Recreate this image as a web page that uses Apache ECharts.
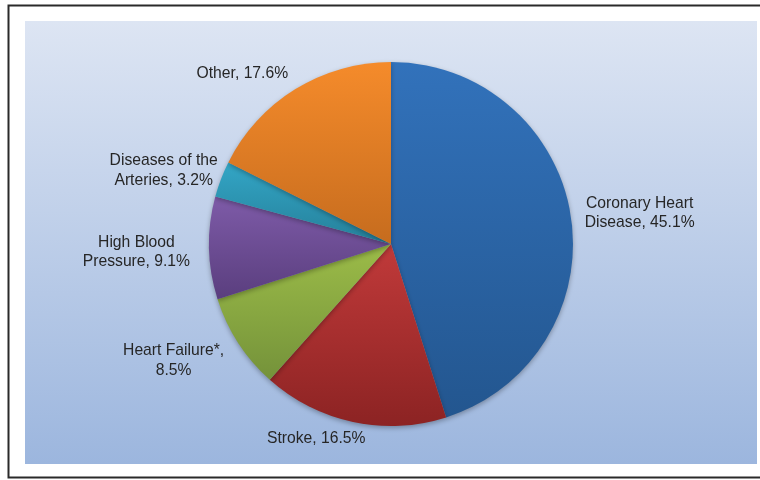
<!DOCTYPE html>
<html>
<head>
<meta charset="utf-8">
<script src="https://cdn.jsdelivr.net/npm/echarts@6/dist/echarts.min.js"></script>
<style>
  html, body { margin: 0; padding: 0; background: #fff; }
  #chart { width: 760px; height: 480px; }
</style>
</head>
<body>
<div id="chart"></div>
<script>
// slice names, shown text and values (percent)
var categories = ['Coronary Heart Disease', 'Stroke', 'Heart Failure*', 'High Blood Pressure', 'Diseases of the Arteries', 'Other'];
var labelTexts = ['Coronary Heart\nDisease, 45.1%', 'Stroke, 16.5%', 'Heart Failure*,\n8.5%', 'High Blood\nPressure, 9.1%', 'Diseases of the\nArteries, 3.2%', 'Other, 17.6%'];
var values = [45.1, 16.5, 8.5, 9.1, 3.2, 17.6];

// top / bottom colours of each slice
var topColors = ['#3272bb', '#c13a3a', '#9cbc48', '#7e5ba8', '#33a6c6', '#f58b2b'];
var bottomColors = ['#23568f', '#8c2323', '#74923a', '#5a3e7e', '#25809a', '#c66c1e'];

// small nudges of the outside labels, [dx, dy]
var labelNudge = [[-7, -1], [24, 5], [5, 11], [2, 4], [17, -4], [8, -5]];

var chart = echarts.init(document.getElementById('chart'));

var data = categories.map(function (name, i) {
    return {
        name: name,
        value: values[i],
        label: { formatter: labelTexts[i] },
        itemStyle: {
            color: new echarts.graphic.LinearGradient(0, 0, 0, 1, [
                { offset: 0, color: topColors[i] },
                { offset: 1, color: bottomColors[i] }
            ])
        }
    };
});

var option = {
    backgroundColor: '#fff',
    animation: false,
    graphic: [
        {
            type: 'rect',
            shape: { x: 8.5, y: 5.5, width: 760, height: 472 },
            style: { fill: 'none', stroke: '#2a2a2a', lineWidth: 2 },
            z: 0
        },
        {
            type: 'rect',
            shape: { x: 25, y: 21, width: 732, height: 443 },
            style: {
                fill: new echarts.graphic.LinearGradient(0, 0, 0, 1, [
                    { offset: 0, color: '#dde5f3' },
                    { offset: 1, color: '#9cb6de' }
                ])
            },
            z: 0
        }
    ],
    series: [
        {
            type: 'pie',
            center: [391, 244],
            radius: 182,
            startAngle: 90,
            clockwise: true,
            avoidLabelOverlap: false,
            z: 5,
            itemStyle: {
                shadowBlur: 5,
                shadowColor: 'rgba(0,0,0,0.3)',
                shadowOffsetY: 2
            },
            label: {
                show: true,
                position: 'outside',
                alignTo: 'none',
                fontFamily: 'Liberation Sans, Arial, sans-serif',
                fontSize: 15.7,
                lineHeight: 19.5,
                color: '#262626'
            },
            labelLine: { show: false, length: 12, length2: 4 },
            labelLayout: function (p) {
                var n = labelNudge[p.dataIndex];
                return {
                    x: p.labelRect.x + p.labelRect.width / 2 + n[0],
                    y: p.labelRect.y + p.labelRect.height / 2 + n[1],
                    align: 'center',
                    verticalAlign: 'middle'
                };
            },
            data: data
        }
    ]
};

chart.setOption(option);
</script>
</body>
</html>
